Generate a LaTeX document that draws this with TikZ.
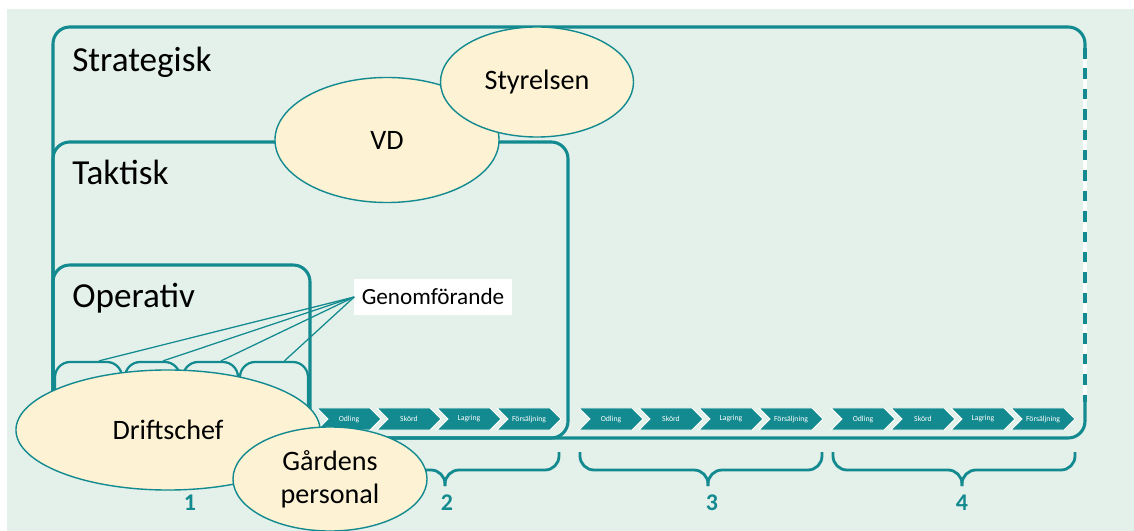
\documentclass[tikz,border=0pt]{standalone}
\usepackage{fontspec}
\setmainfont{Carlito}
\usepackage{xcolor}
\usetikzlibrary{shapes.geometric}
\usetikzlibrary{shapes.symbols}
\usetikzlibrary{calc}

\definecolor{petrol}{HTML}{138A8F}
\definecolor{mint}{HTML}{E4F1EB}
\definecolor{cream}{HTML}{FDF2D3}

\begin{document}
\begin{tikzpicture}[x = 0.025cm, y = -0.025cm]
		\useasboundingbox (0, 0) rectangle (1134, 531);
		\fill [mint] (7, 9) rectangle (1134, 531);
		
		% levels
		\begin{scope}[draw = petrol, line width = 2.2pt, rounded corners = 0.42cm]
		\draw [draw = white] (1085, 46) -- (1085, 404);
		\draw [dash pattern = on 7.5pt off 7pt] (1085, 48) -- (1085, 402);
		\draw (1085, 50) -- (1085, 27) -- (53, 27) -- (53, 438) -- (1085, 438) -- (1085, 400);
		\draw (53, 142) rectangle (568, 438);
		\draw (53, 265) rectangle (310, 438);
		\end{scope}
		
		\begin{scope}[every node/.style = {anchor = base west, inner sep = 0pt, font = \fontsize{25}{30}\selectfont}]
		\node (strat) at (72, 72) {Strategisk};
		\node (takt) at (72, 185) {Taktisk};
		\node (oper) at (72, 308) {Operativ};
		\end{scope}
		
		\begin{scope}[every node/.style = {rectangle, draw = petrol, line width = 1.6pt, rounded corners = 0.38cm, inner sep = 0pt, minimum height = 1.9cm}]
		\node (a1) [minimum width = 1.675cm] at (88.5, 400) {};
		\node (a2) [minimum width = 1.375cm] at (152.5, 400) {};
		\node (a3) [minimum width = 1.375cm] at (210.5, 400) {};
		\node (a4) [minimum width = 1.7cm] at (274, 400) {};
		\end{scope}
		
		\node (genom) [fill = white, minimum width = 3.925cm, minimum height = 0.875cm, font = \fontsize{16.5}{18}\selectfont] at (433, 297) {Genomförande};
		
		\begin{scope}[every edge/.style = {draw = petrol, line width = 0.9pt}]
		\path (genom.west) edge (a1.75)
		(genom.west) edge (a2.75)
		(genom.west) edge (a3.75)
		(genom.west) edge (a4.75);
		\end{scope}
		
		% value chain
		\begin{scope}[every node/.style = {signal, signal to = east, signal from = west, fill = petrol, draw = white, line width = 0.7pt, minimum width = 1.6cm, minimum height = 0.55cm, inner sep = 0pt, text = white, font = \fontsize{5.5}{6}\selectfont}]
		\foreach \g/\x in {1/349, 2/611, 3/863} {
			\foreach \t [count = \i] in {Odling, Skörd, Lagring, Försäljning}
				\node (ch\g\i) at (\x + 60*\i - 60, 419) {\t};
		}
		\end{scope}
		
		\begin{scope}[draw = petrol, line width = 2pt, rounded corners = 0.35cm]
		\foreach \l/\m/\r in {317/445/559, 580/708/822, 833/962/1075} {
			\draw (\l, 452) -- (\l, 470) -- (\m, 470) -- (\m, 486);
			\draw (\r, 452) -- (\r, 470) -- (\m, 470) -- (\m, 486);
		}
		\end{scope}
		
		\begin{scope}[every node/.style = {text = petrol, font = \fontsize{17}{20}\selectfont\bfseries}]
		\node (n1) at (190, 503) {1};
		\node (n2) at (447, 503) {2};
		\node (n3) at (712, 503) {3};
		\node (n4) at (962, 503) {4};
		\end{scope}
		
		\begin{scope}[every node/.style = {ellipse, draw = petrol, line width = 1pt, fill = cream, inner sep = 0pt, font = \fontsize{20}{23.5}\selectfont}]
		\node (vd) [minimum width = 5.6cm, minimum height = 3.125cm] at (387, 140) {VD};
		\node (styr) [minimum width = 4.825cm, minimum height = 2.75cm] at (537, 82) {Styrelsen};
		\node (drift) [minimum width = 7.6cm, minimum height = 3cm] at (168, 430) {Driftschef};
		\node (gard) [minimum width = 4.85cm, minimum height = 2.6cm, align = center] at (330, 479) {Gårdens\\personal};
		\end{scope}
		
\end{tikzpicture}
\end{document}
